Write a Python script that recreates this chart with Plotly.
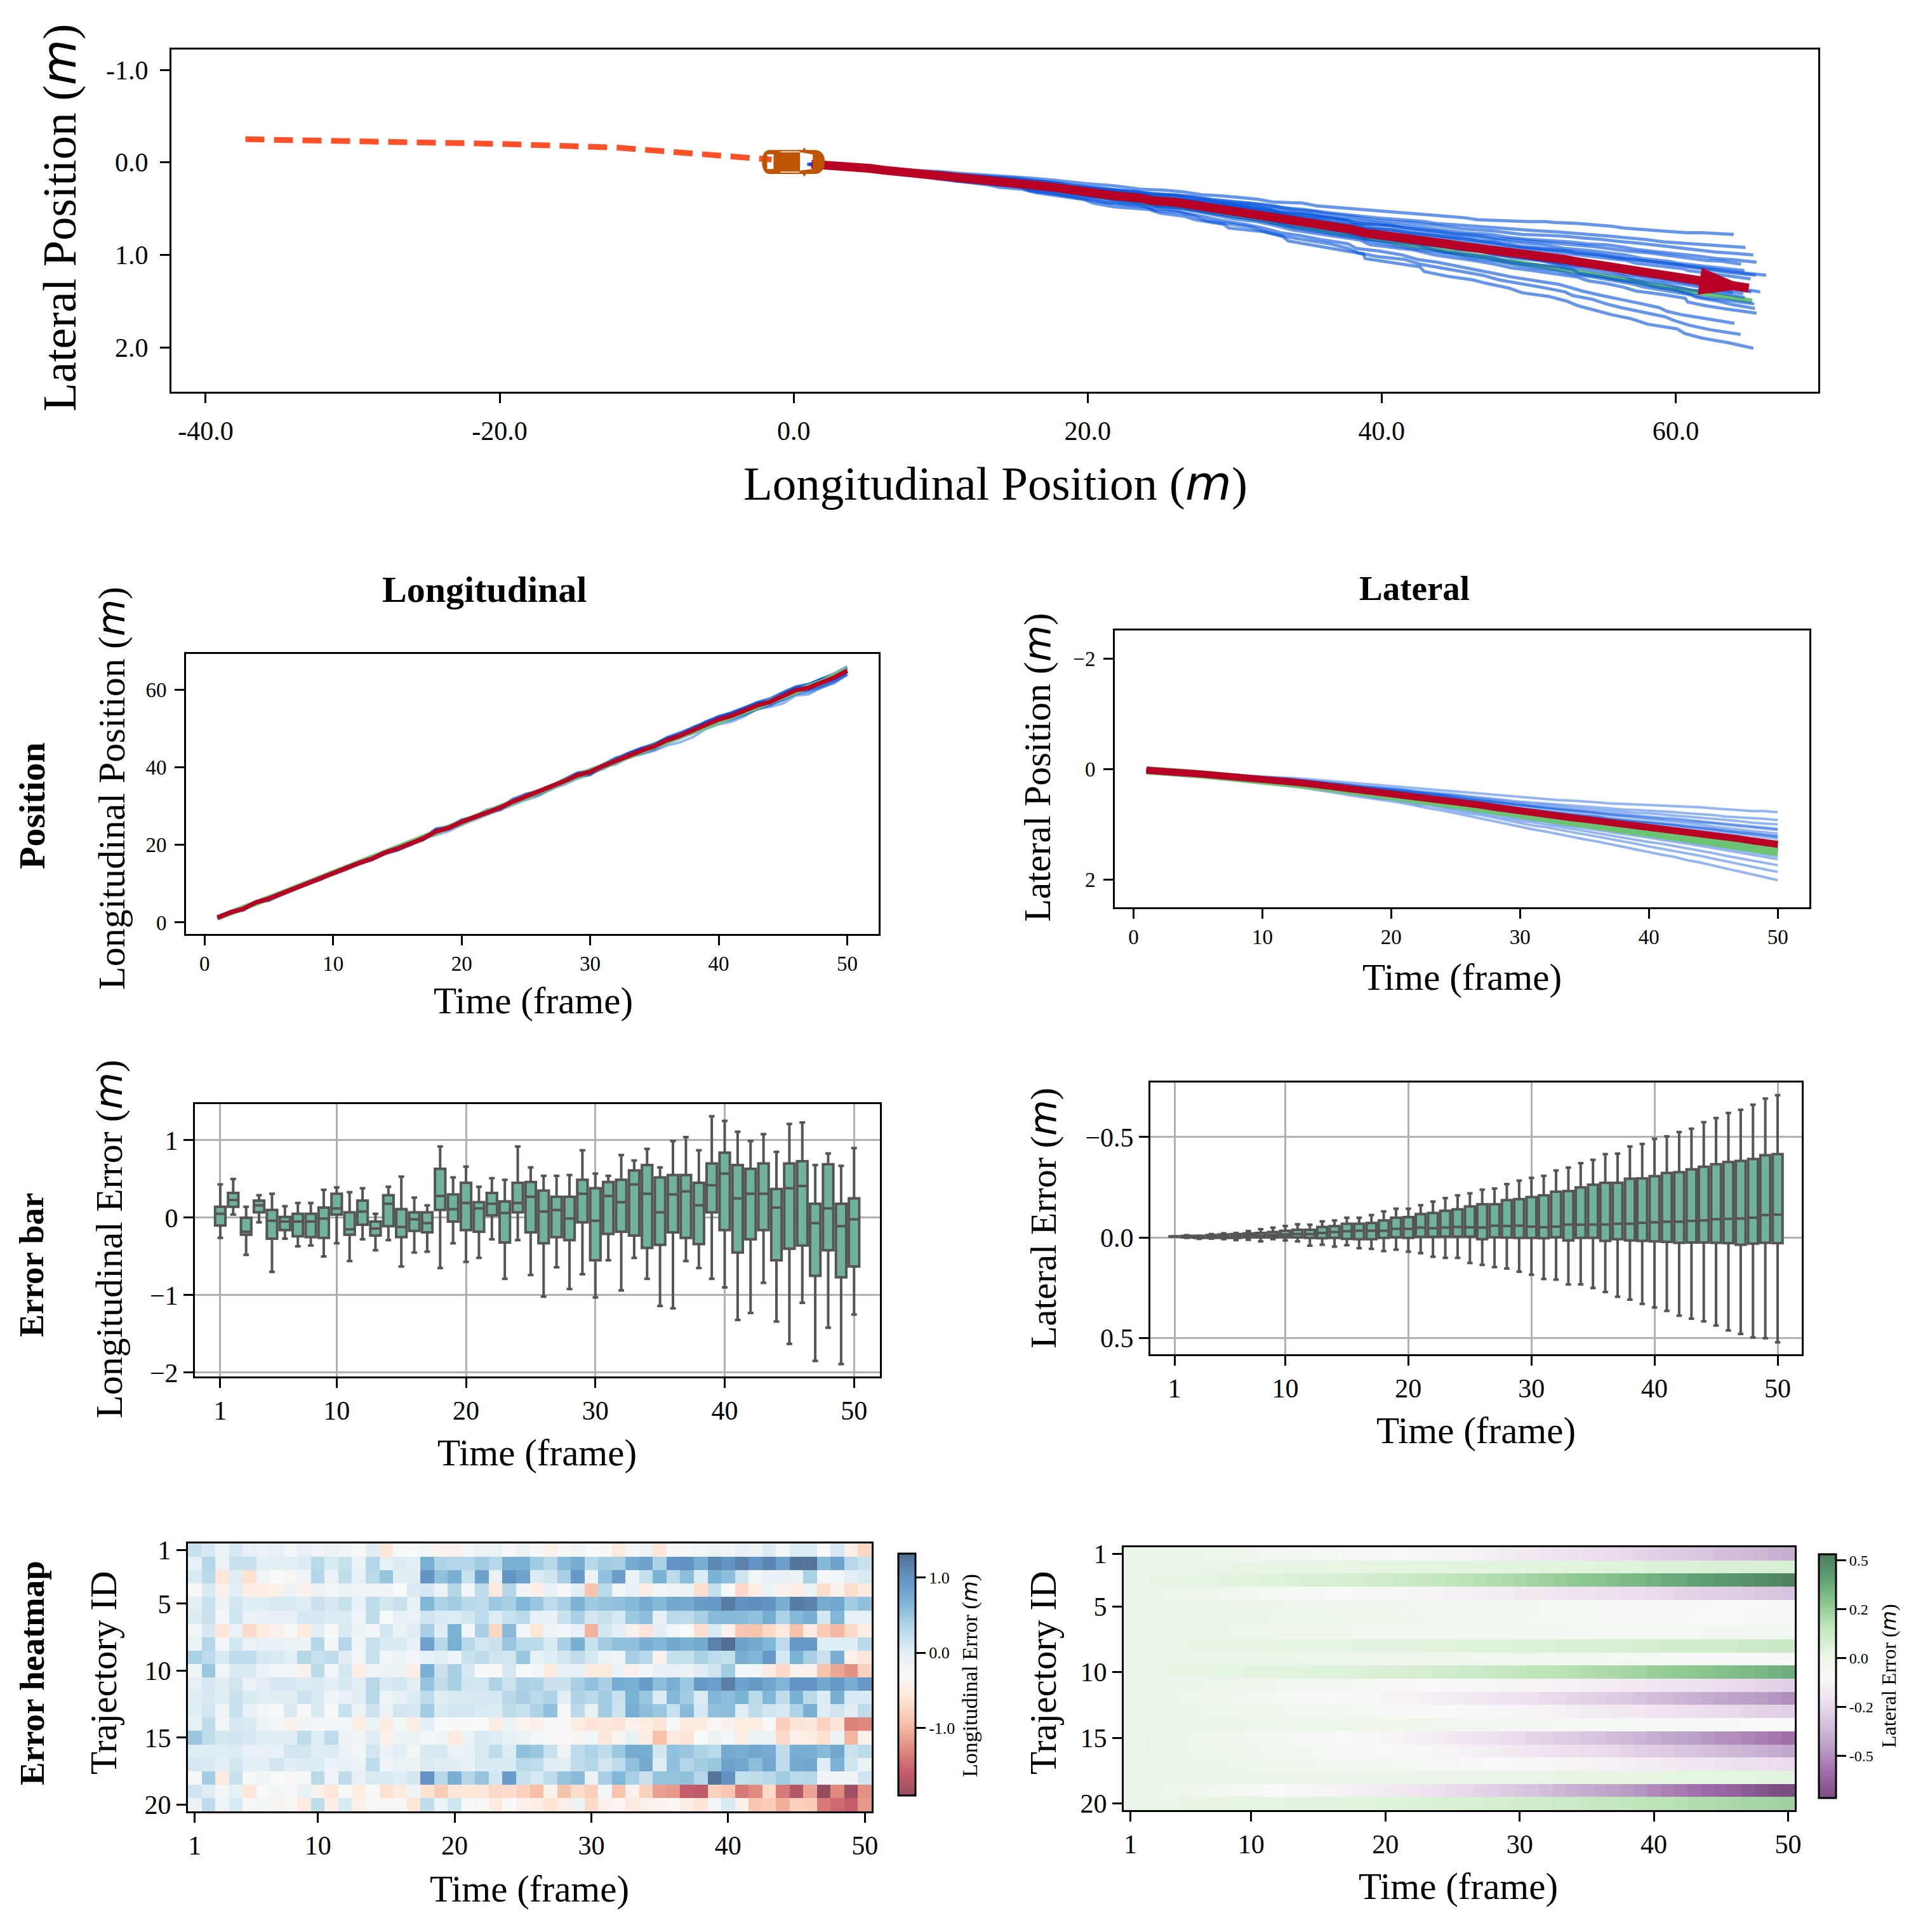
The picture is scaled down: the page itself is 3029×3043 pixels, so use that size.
import numpy as np
import plotly.graph_objects as go

W, H = 3029, 3043
SERIF = "Liberation Serif"
M = '<span style="font-family:DejaVu Sans;font-style:italic">m</span>'

frames = list(range(1, 51))
traj_ids = list(range(1, 21))

# ground truth positions per frame (m)
gt_long = [1.2, 2.4, 3.7, 5.1, 6.3, 7.6, 8.9, 10.2, 11.5, 12.8, 14.1, 15.3, 16.6, 17.9, 19.2, 20.4, 21.8, 23.2, 24.4, 25.8,
           27.1, 28.4, 29.7, 31.0, 32.4, 33.6, 35.0, 36.5, 37.8, 39.0, 40.3, 41.7, 43.0, 44.2, 45.5, 46.9, 48.1, 49.5, 50.7, 52.0,
           53.2, 54.5, 55.8, 57.0, 58.2, 59.7, 60.8, 62.0, 63.6, 65.2]
gt_lat = [0.02, 0.03, 0.05, 0.07, 0.09, 0.11, 0.13, 0.15, 0.18, 0.2, 0.22, 0.24, 0.27, 0.3, 0.33, 0.36, 0.39, 0.42, 0.45, 0.47,
          0.5, 0.54, 0.57, 0.6, 0.64, 0.68, 0.71, 0.75, 0.79, 0.83, 0.86, 0.89, 0.93, 0.96, 0.99, 1.02, 1.06, 1.09, 1.12, 1.15,
          1.18, 1.21, 1.25, 1.28, 1.32, 1.36, 1.39, 1.43, 1.46, 1.5]

# observed history (dashed line in the top panel)
hist_x = [-37.3, -30.0, -25.0, -20.0, -15.0, -12.0, -8.0, -4.0, -1.5]
hist_y = [-0.25, -0.235, -0.22, -0.2, -0.175, -0.16, -0.11, -0.06, -0.03]

# longitudinal error per trajectory (rows) and frame (columns)
long_err = [
    [.2, .1, -.1, .1, -.05, -.1, -.05, -.2, -.05, -.15, -.1, -.15, -.25, 0, -.6, -.3, -.28, -.2, -.4, -.45, -.2, -.1, -.1, -.3, -.1, -.3, -.42, -.25, -.15, -.28, -.3, -.55, -.2, -.1, -.6, -.3, -.25, -.18, -.12, -.15, -.05, -.12, .05, -.2, .05, .05, -.28, .1, -.45, -.75],
    [-.05, .35, -.1, .2, .2, -.03, -.03, -.03, .05, .3, .08, .2, -.1, .35, -.05, .05, -.03, .7, .38, .35, .35, .45, .33, .7, .7, .45, .32, .6, .75, .33, .45, .42, .75, .85, .4, 1.0, 1.03, .72, 1.1, 1.0, 1.15, 1.0, 1.12, .88, 1.25, 1.27, .62, .85, .32, .2],
    [.08, .3, -.6, .02, -.65, -.15, -.28, -.35, -.15, .35, -.1, .25, -.05, .3, .52, -.03, 0, 1.0, .55, .72, .2, .85, -.1, 1.0, .85, .05, .15, .42, .95, -.12, .55, .9, -.1, .22, .68, .28, .58, .05, .68, .58, .15, -.2, -.08, -.05, -.1, .4, -.2, -.22, -.02, .08],
    [-.3, .08, -.45, -.03, -.48, -.5, -.45, -.12, -.42, -.1, -.2, -.13, -.15, -.15, -.17, -.28, .07, .1, -.1, .35, -.18, .28, -.55, .35, -.15, -.48, -.05, -.32, -.03, -.9, .3, -.18, -.08, -.47, -.2, -.15, -.13, -.68, .22, -.25, -.72, -.47, -.13, -.42, -.48, -.12, -.7, -.42, -.68, -.52],
    [-.03, .2, -.1, .12, .03, .03, .08, .08, .03, .18, .1, .2, -.08, .27, .12, .2, -.08, .65, .38, .45, .32, .28, .48, .42, .65, .5, .28, .42, .68, .47, .52, .55, .62, .75, .62, .8, .78, .93, .95, 1.2, 1.02, 1.05, 1.0, .72, 1.2, 1.15, .75, .8, .45, .55],
    [.05, .18, -.22, .15, -.1, -.08, -.05, -.05, .1, .1, .05, .05, -.15, .25, -.28, -.08, -.1, .15, .08, .03, .15, .28, .03, .2, .3, -.07, -.07, .2, .42, .12, .2, .1, .48, .58, -.07, .3, .28, .42, .6, .62, .6, .55, .75, .38, .62, .72, .12, .65, -.05, -.05],
    [-.18, .1, -.6, -.1, -.72, -.55, -.45, -.25, -.55, -.03, -.3, .08, -.12, -.2, .12, -.13, .02, .42, .02, .68, -.2, .42, -.75, .6, -.2, -.6, -.15, -.22, -.05, -1.02, .12, -.02, -.42, -.62, -.03, -.18, -.28, -.68, .08, -.45, -.88, -.9, -.72, -.52, -.93, -.55, -.85, -.98, -.72, -.5],
    [-.12, .35, -.2, .12, -.1, -.05, -.07, -.1, -.12, .35, -.2, .35, -.15, .2, .08, .08, -.07, .85, .32, .7, .32, .12, .2, .5, .3, .3, .08, .42, .72, .2, .45, .55, .55, .72, .65, .8, .7, .78, 1.15, 1.3, .85, .78, .65, .28, .95, .95, .03, .03, .03, .3],
    [.4, .28, .08, .28, .27, .1, .07, -.03, .35, .2, .27, 0, -.2, .2, -.2, -.13, -.2, -.07, -.03, -.17, .2, .27, .15, .13, .5, -.05, .03, .12, .25, .1, -.1, -.15, .42, .32, -.42, .22, .22, .4, .28, .23, .72, .65, .95, .1, .68, .42, .18, .72, -.43, -.6],
    [-.15, .5, -.18, .07, .07, -.12, -.2, -.2, -.42, .3, -.2, .12, -.48, -.17, -.13, -.1, -.47, .7, .18, .42, .1, -.3, -.3, .1, -.3, -.2, -.55, -.05, -.08, -.55, -.55, -.12, -.42, -.2, -.08, -.05, -.13, 0, .15, .45, -.2, -.18, -.52, -.72, -.42, -.42, -.9, -1.1, -1.25, -.78],
    [-.05, .1, 0, .13, -.1, -.02, .1, .1, .05, .08, -.03, .1, -.02, .32, .07, .13, -.02, .52, .25, .42, .15, .13, .38, .17, .4, .38, .18, .18, .42, .55, .42, .75, .7, .92, .58, .72, .48, .95, .88, 1.18, .85, .95, .82, .65, 1.0, 1.0, .8, .95, .72, .95],
    [.02, .1, .02, .2, .08, -.03, 0, 0, .17, .08, -.17, -.07, 0, .33, -.17, -.05, .05, .28, 0, .08, .08, .1, .1, .32, .42, .3, .37, -.02, .37, .3, .45, .18, .68, .5, .05, .62, .45, .05, .65, .58, .68, .3, .65, .25, .7, .3, .05, .72, .08, .08],
    [.03, .13, -.17, .2, -.05, -.2, -.27, .07, -.3, .08, -.3, .2, -.13, .17, -.1, .13, .1, .45, .08, .13, .13, .07, .05, .27, .2, .38, .55, -.3, .3, -.05, .45, .17, .72, .57, .5, .2, .6, .1, .55, .58, .02, .25, .15, .1, .38, .7, .02, .15, 0, .25],
    [-.07, .27, -.22, .1, .08, -.12, -.22, -.42, -.17, -.2, -.2, -.22, -.5, -.13, -.53, -.23, -.5, -.03, -.28, -.27, -.27, -.28, -.5, -.12, -.4, -.45, -.32, -.32, -.5, -.62, -.58, -.62, -.42, -.5, -.62, -.25, -.52, -.52, -.32, -.42, -.5, -.5, -.27, -.8, -.62, -.58, -.78, -.62, -1.35, -1.3],
    [.5, .25, .12, .15, .1, .02, 0, 0, .28, .03, .28, -.12, -.15, .02, -.45, -.13, -.1, -.2, -.17, -.55, -.1, .08, .02, -.07, -.1, -.2, -.25, -.32, -.38, -.18, -.58, -.38, -.05, -.5, -.92, -.55, -.62, -.28, -.13, -.2, -.5, -.12, -.1, -.72, -.45, -.5, -.65, -.1, -1.0, -.45],
    [.03, .03, .03, .05, -.05, -.08, -.08, .12, .13, 0, .05, -.1, -.18, .13, -.1, -.03, -.18, .08, .1, -.13, -.07, .08, .27, .05, .55, .5, .2, -.17, .27, .38, .27, .48, .75, .72, .12, .55, .5, .38, .3, .78, .72, .8, .75, .27, .72, .72, .6, .8, .17, .3],
    [.1, .08, -.03, .13, -.03, -.03, .13, 0, .05, .05, -.12, -.05, -.13, .27, -.15, -.1, -.1, .05, 0, 0, -.07, .08, .08, .08, .3, .28, .02, -.02, .25, .35, .12, .27, .55, .78, .02, .55, .35, .45, .5, .85, .8, .58, .8, .28, .78, .8, .03, .68, .15, -.1],
    [-.25, .45, -.52, .2, -.25, -.17, -.28, -.35, -.23, .3, -.15, .28, -.05, .07, .07, .02, .12, 1.0, .32, .72, .35, .52, .12, .92, .2, .1, .28, .52, .6, -.12, .42, .65, .42, .18, .52, .52, .55, .35, 1.25, 1.02, .22, .25, .33, .45, .3, .33, -.15, -.15, -.17, .15],
    [.15, 0, -.2, -.05, -.58, -.28, -.22, -.25, -.07, -.42, -.6, -.3, -.5, -.3, -.65, -.52, -.17, -.65, -.82, -.6, -.6, -.6, -.72, -.7, -.78, -.95, -.42, -.92, -.7, -.8, -.2, -.9, -.42, -.78, -1.15, -1.2, -1.6, -1.65, -.78, -.88, -1.4, -1.28, -.72, -1.4, -1.7, -1.12, -1.9, -1.3, -1.85, -1.25],
    [-.1, .27, -.17, .08, -.32, -.18, -.38, -.32, -.52, .27, -.47, .08, -.45, -.25, -.32, -.32, -.6, .25, -.1, .15, -.27, -.25, -.55, -.3, -.45, -.48, -.62, -.45, -.1, -.72, -.45, -.35, -.55, -.42, -.38, -.33, -.48, -.62, -.2, .08, -.45, -.88, -.82, -1.05, -.78, -.82, -1.4, -1.5, -1.6, -1.2],
]

# lateral error per trajectory (rows) and frame (columns)
lat_err = [
    [0, 0, 0, -.01, -.01, -.01, -.02, -.02, -.02, -.03, -.04, -.04, -.05, -.05, -.06, -.06, -.07, -.07, -.08, -.08, -.09, -.10, -.11, -.12, -.12, -.13, -.14, -.15, -.16, -.17, -.18, -.19, -.20, -.21, -.22, -.23, -.24, -.25, -.26, -.28, -.29, -.30, -.31, -.32, -.34, -.35, -.36, -.37, -.39, -.40],
    [0, 0, 0, 0, 0, 0, 0, 0, .01, .01, .01, .01, .01, .01, .01, .01, .01, .01, .02, .02, .02, .02, .02, .02, .03, .03, .03, .03, .03, .03, .04, .04, .04, .04, .04, .05, .05, .05, .05, .06, .06, .06, .06, .07, .07, .07, .07, .07, .08, .08],
    [0, 0, .01, .01, .01, .02, .02, .03, .03, .04, .05, .05, .06, .07, .07, .08, .09, .09, .10, .11, .12, .13, .14, .15, .16, .17, .18, .19, .20, .21, .23, .24, .25, .27, .28, .29, .30, .32, .33, .35, .37, .38, .40, .41, .43, .44, .46, .47, .49, .51],
    [0, -.01, -.01, -.02, -.02, -.03, -.03, -.04, -.05, -.05, -.06, -.07, -.07, -.08, -.08, -.09, -.09, -.10, -.10, -.11, -.11, -.12, -.13, -.13, -.14, -.14, -.15, -.16, -.16, -.17, -.18, -.18, -.19, -.20, -.20, -.21, -.22, -.23, -.23, -.24, -.25, -.26, -.27, -.28, -.28, -.29, -.30, -.31, -.32, -.33],
    [0, 0, 0, 0, 0, 0, -.01, -.01, -.01, -.01, -.01, -.01, -.02, -.02, -.02, -.02, -.03, -.03, -.03, -.03, -.03, -.04, -.04, -.04, -.04, -.04, -.05, -.05, -.05, -.05, -.05, -.06, -.06, -.06, -.06, -.07, -.07, -.07, -.07, -.07, -.08, -.08, -.08, -.08, -.09, -.09, -.09, -.09, -.10, -.10],
    [0, 0, 0, 0, 0, -.01, -.01, -.01, -.01, -.01, -.01, -.02, -.02, -.02, -.02, -.02, -.02, -.03, -.03, -.03, -.03, -.03, -.04, -.04, -.04, -.05, -.05, -.05, -.05, -.05, -.06, -.06, -.06, -.06, -.06, -.07, -.07, -.07, -.08, -.08, -.08, -.08, -.09, -.09, -.09, -.09, -.10, -.10, -.10, -.10],
    [0, 0, 0, 0, -.01, -.01, -.01, -.01, -.02, -.02, -.02, -.03, -.03, -.03, -.03, -.03, -.03, -.04, -.04, -.04, -.04, -.04, -.04, -.05, -.05, -.05, -.05, -.05, -.05, -.05, -.05, -.05, -.05, -.06, -.06, -.06, -.06, -.06, -.06, -.06, -.06, -.06, -.06, -.05, -.05, -.05, -.05, -.05, -.05, -.04],
    [0, 0, 0, 0, 0, .01, .01, .01, .01, .01, .01, .02, .02, .02, .02, .02, .02, .03, .03, .03, .03, .03, .04, .04, .04, .05, .05, .05, .05, .06, .06, .06, .07, .07, .07, .08, .08, .08, .09, .09, .10, .10, .10, .11, .11, .11, .12, .12, .13, .13],
    [0, 0, 0, 0, 0, -.01, -.01, -.01, -.01, -.01, -.01, -.01, -.01, -.02, -.02, -.02, -.02, -.02, -.02, -.03, -.03, -.03, -.03, -.03, -.03, -.03, -.04, -.04, -.04, -.04, -.04, -.05, -.05, -.05, -.05, -.05, -.06, -.06, -.06, -.06, -.06, -.07, -.07, -.07, -.07, -.07, -.08, -.08, -.08, -.08],
    [0, 0, 0, .01, .01, .01, .02, .02, .02, .03, .03, .03, .04, .04, .05, .05, .05, .06, .07, .07, .08, .09, .09, .10, .11, .12, .12, .13, .14, .15, .16, .16, .17, .18, .19, .20, .21, .22, .23, .25, .26, .27, .28, .29, .30, .31, .32, .33, .35, .36],
    [0, 0, -.01, -.01, -.01, -.01, -.02, -.02, -.02, -.03, -.03, -.04, -.04, -.04, -.05, -.05, -.05, -.06, -.06, -.07, -.08, -.08, -.09, -.09, -.10, -.10, -.11, -.11, -.12, -.12, -.13, -.13, -.14, -.14, -.15, -.16, -.16, -.17, -.18, -.19, -.20, -.20, -.21, -.22, -.23, -.24, -.25, -.26, -.27, -.28],
    [0, -.01, -.01, -.01, -.02, -.02, -.03, -.03, -.04, -.05, -.05, -.06, -.07, -.07, -.08, -.09, -.10, -.10, -.11, -.12, -.13, -.13, -.14, -.15, -.16, -.17, -.18, -.19, -.20, -.21, -.22, -.24, -.25, -.26, -.27, -.28, -.30, -.31, -.33, -.35, -.36, -.38, -.39, -.41, -.42, -.44, -.45, -.46, -.48, -.50],
    [0, 0, 0, -.01, -.01, -.01, -.02, -.02, -.02, -.03, -.03, -.03, -.04, -.04, -.04, -.05, -.05, -.06, -.06, -.07, -.07, -.08, -.08, -.09, -.09, -.10, -.10, -.11, -.11, -.12, -.13, -.13, -.14, -.15, -.16, -.16, -.17, -.17, -.18, -.19, -.20, -.21, -.22, -.23, -.24, -.25, -.26, -.27, -.27, -.28],
    [0, 0, 0, 0, 0, 0, -.01, -.01, -.01, -.01, -.01, -.01, -.02, -.02, -.02, -.02, -.02, -.03, -.03, -.03, -.03, -.03, -.03, -.04, -.04, -.04, -.04, -.04, -.05, -.05, -.05, -.05, -.06, -.06, -.06, -.06, -.06, -.07, -.07, -.07, -.07, -.08, -.08, -.08, -.08, -.08, -.09, -.09, -.09, -.09],
    [0, 0, -.01, -.01, -.01, -.02, -.02, -.03, -.03, -.04, -.05, -.05, -.06, -.07, -.07, -.08, -.09, -.10, -.11, -.12, -.13, -.14, -.15, -.16, -.18, -.19, -.20, -.21, -.23, -.24, -.26, -.27, -.29, -.30, -.32, -.33, -.35, -.36, -.38, -.40, -.42, -.43, -.45, -.47, -.49, -.50, -.52, -.54, -.56, -.58],
    [0, 0, -.01, -.01, -.01, -.02, -.02, -.02, -.03, -.03, -.04, -.04, -.05, -.05, -.06, -.07, -.07, -.08, -.08, -.09, -.10, -.11, -.11, -.12, -.13, -.14, -.15, -.16, -.17, -.18, -.19, -.20, -.21, -.22, -.23, -.24, -.25, -.26, -.28, -.29, -.30, -.32, -.33, -.34, -.35, -.37, -.38, -.39, -.41, -.42],
    [0, 0, 0, 0, -.01, -.01, -.01, -.01, -.02, -.02, -.02, -.03, -.03, -.03, -.04, -.04, -.04, -.05, -.05, -.05, -.06, -.06, -.07, -.07, -.07, -.08, -.08, -.09, -.09, -.10, -.11, -.11, -.12, -.12, -.13, -.14, -.14, -.15, -.16, -.16, -.17, -.18, -.19, -.19, -.20, -.21, -.22, -.22, -.23, -.24],
    [0, 0, 0, 0, 0, 0, 0, 0, 0, -.01, -.01, -.01, -.01, -.01, -.01, -.01, -.01, -.01, -.01, -.01, -.01, -.01, -.01, -.01, -.01, 0, 0, 0, 0, 0, 0, 0, .01, .01, .01, .01, .01, .01, .01, .01, .02, .02, .02, .02, .02, .02, .02, .03, .03, .03],
    [0, -.01, -.01, -.02, -.02, -.03, -.04, -.05, -.06, -.07, -.08, -.09, -.10, -.11, -.12, -.13, -.14, -.15, -.16, -.17, -.18, -.19, -.21, -.22, -.24, -.25, -.27, -.28, -.30, -.32, -.33, -.35, -.37, -.39, -.41, -.42, -.44, -.46, -.48, -.51, -.53, -.55, -.57, -.59, -.61, -.63, -.65, -.67, -.70, -.72],
    [0, 0, 0, 0, .01, .01, .01, .01, .02, .02, .02, .02, .03, .03, .03, .03, .04, .04, .04, .05, .05, .06, .06, .07, .07, .08, .08, .09, .09, .10, .10, .11, .12, .12, .13, .14, .14, .15, .16, .17, .17, .18, .19, .19, .20, .21, .22, .22, .23, .24],
]

# box statistics, longitudinal error
long_upper = [.43, .50, .14, .29, .31, .15, .19, .19, .36, .39, .33, .38, .05, .40, .53, .26, .16, .92, .52, .66, .40, .51, .49, .92, .65, .54, .54, .55, .87, .57, .54, .81, .74, .89, .65, .99, 1.04, .87, 1.31, 1.25, 1.11, .99, 1.08, .85, 1.21, 1.23, .68, .83, .67, .90]
long_q3 = [.14, .32, 0, .22, .10, .01, .05, .05, .13, .31, .07, .22, -.05, .29, .11, .07, .07, .63, .30, .45, .20, .32, .21, .45, .46, .35, .27, .27, .49, .38, .46, .49, .61, .68, .52, .55, .55, .45, .70, .84, .68, .63, .70, .37, .70, .73, .18, .69, .18, .25]
long_med = [.05, .23, -.18, .16, -.04, -.05, -.05, -.05, -.01, .12, -.15, .08, -.14, .18, -.12, -.02, -.07, .28, .11, .19, .12, .18, .06, .19, .27, .08, .10, -.01, .31, -.04, .28, .20, .43, .31, .07, .30, .34, .16, .42, .57, .25, .31, .31, .13, .38, .41, -.07, .12, -.11, -.02]
long_q1 = [-.10, .14, -.22, .07, -.27, -.16, -.24, -.25, -.26, .04, -.22, -.09, -.23, -.11, -.25, -.17, -.19, .10, -.05, -.16, -.18, .03, -.32, .07, -.19, -.33, -.25, -.29, -.06, -.55, -.21, -.18, -.23, -.39, -.35, -.19, -.26, -.34, .07, -.16, -.45, -.28, -.16, -.55, -.40, -.36, -.75, -.42, -.77, -.63]
long_lower = [-.26, .04, -.48, -.06, -.70, -.27, -.37, -.36, -.50, -.33, -.56, -.28, -.42, -.29, -.63, -.45, -.44, -.65, -.33, -.57, -.52, -.28, -.79, -.29, -.74, -1.02, -.64, -.92, -.73, -1.03, -.55, -.94, -.52, -.79, -1.14, -1.17, -.56, -.65, -.79, -.90, -1.32, -1.23, -.84, -1.34, -1.63, -1.10, -1.85, -1.42, -1.89, -1.25]

# box statistics, lateral error (axis is reversed in the picture)
lat_lower = [-.006, -.011, -.009, -.017, -.021, -.022, -.032, -.041, -.049, -.057, -.066, -.063, -.080, -.085, -.098, -.098, -.112, -.130, -.143, -.143, -.161, -.179, -.196, -.210, -.220, -.238, -.244, -.266, -.283, -.297, -.307, -.334, -.348, -.370, -.387, -.415, -.418, -.453, -.466, -.491, -.504, -.525, -.542, -.574, -.595, -.620, -.636, -.661, -.692, -.709]
lat_q1 = [-.006, -.008, -.008, -.012, -.015, -.017, -.020, -.022, -.027, -.033, -.038, -.038, -.052, -.056, -.068, -.068, -.072, -.085, -.098, -.101, -.116, -.122, -.133, -.140, -.154, -.165, -.165, -.186, -.191, -.201, -.210, -.228, -.231, -.249, -.263, -.272, -.272, -.293, -.294, -.305, -.321, -.325, -.339, -.352, -.365, -.376, -.381, -.391, -.410, -.415]
lat_med = [-.004, -.004, -.004, -.004, -.006, -.008, -.009, -.008, -.012, -.014, -.017, -.017, -.022, -.027, -.031, -.033, -.033, -.033, -.043, -.043, -.049, -.046, -.049, -.052, -.051, -.049, -.059, -.057, -.059, -.054, -.051, -.054, -.064, -.063, -.064, -.064, -.068, -.068, -.073, -.075, -.078, -.078, -.082, -.085, -.091, -.093, -.094, -.098, -.112, -.114]
lat_q3 = [-.004, 0, .002, .002, .002, .002, -.001, 0, 0, -.001, 0, .002, .004, .002, .007, .009, .009, .002, -.001, .002, -.003, -.003, -.004, -.004, -.004, .009, -.001, .001, .002, .002, .004, -.001, .015, .002, .002, .017, .009, .015, .017, .020, .022, .027, .025, .025, .027, .028, .036, .031, .027, .028]
lat_upper = [-.004, .002, .007, .006, .009, .013, .012, .020, .009, .015, .020, .041, .036, .046, .039, .054, .057, .068, .061, .071, .078, .096, .102, .102, .127, .137, .148, .155, .171, .186, .207, .210, .234, .234, .252, .272, .296, .310, .331, .349, .366, .390, .405, .418, .439, .463, .481, .498, .502, .523]

frame_ticks = [1, 10, 20, 30, 40, 50]
frame_tick_labels = ["1", "10", "20", "30", "40", "50"]
id_ticks = [1, 5, 10, 15, 20]
id_tick_labels = ["1", "5", "10", "15", "20"]

rdbu = ["#67001f", "#b2182b", "#d6604d", "#f4a582", "#fddbc7", "#f7f7f7", "#d1e5f0", "#92c5de", "#4393c3", "#2166ac", "#053061"]
prgn = ["#40004b", "#762a83", "#9970ab", "#c2a5cf", "#e7d4e8", "#f7f7f7", "#d9f0d3", "#a6dba0", "#5aae61", "#1b7837", "#00441b"]


def faded_scale(colors, alpha=0.7):
    # heatmaps were drawn with alpha over white, colorbar included
    out = []
    for i, c in enumerate(colors):
        rgb = [int(c[j:j + 2], 16) for j in (1, 3, 5)]
        mix = [round(alpha * v + (1 - alpha) * 255) for v in rgb]
        out.append([i / (len(colors) - 1), f"rgb({mix[0]},{mix[1]},{mix[2]})"])
    return out


def xdom(left, right):
    return [left / W, right / W]


def ydom(top, bottom):
    return [1 - bottom / H, 1 - top / H]


def axis(domain, rng, tickvals, ticktext, size, grid=False, anchor=None, standoff=0):
    return dict(domain=domain, range=rng, tickmode="array", tickvals=tickvals, ticktext=ticktext,
                tickfont=dict(family=SERIF, size=size, color="black"), ticks="outside", ticklen=15, tickwidth=3,
                tickcolor="black", showline=True, mirror=True, linecolor="black", linewidth=3, zeroline=False,
                showgrid=grid, gridcolor="#b0b0b0", gridwidth=2.5, anchor=anchor, ticklabelstandoff=standoff,
                layer="above traces" if not grid else "below traces")


long_arr = np.array(long_err)
lat_arr = np.array(lat_err)
pred_long = np.array(gt_long) + long_arr
pred_lat = np.array(gt_lat) + lat_arr
mean_long = pred_long.mean(axis=0)
mean_lat = pred_lat.mean(axis=0)

fig = go.Figure()

GREEN = "#6cc372"
RED = "#b90025"
BLUE_TOP = "rgba(0,80,220,0.6)"
BLUE_SIDE = "rgba(0,80,220,0.42)"

# Top panel: bird's eye view
fig.add_trace(go.Scatter(x=hist_x, y=hist_y, mode="lines", line=dict(color="#ff5028", width=9, dash="30px,15px"), xaxis="x", yaxis="y"))
fig.add_trace(go.Scatter(x=gt_long, y=gt_lat, mode="lines", line=dict(color=GREEN, width=8), xaxis="x", yaxis="y"))
for i in range(20):
    fig.add_trace(go.Scatter(x=pred_long[i], y=pred_lat[i], mode="lines", line=dict(color=BLUE_TOP, width=5), xaxis="x", yaxis="y"))
fig.add_trace(go.Scatter(x=mean_long, y=mean_lat, mode="lines", line=dict(color=RED, width=14), xaxis="x", yaxis="y"))

# Position over time
for i in range(20):
    fig.add_trace(go.Scatter(x=frames, y=pred_long[i], mode="lines", line=dict(color=BLUE_SIDE, width=4), xaxis="x2", yaxis="y2"))
    fig.add_trace(go.Scatter(x=frames, y=pred_lat[i], mode="lines", line=dict(color=BLUE_SIDE, width=4), xaxis="x3", yaxis="y3"))
fig.add_trace(go.Scatter(x=frames, y=gt_long, mode="lines", line=dict(color=GREEN, width=9), xaxis="x2", yaxis="y2"))
fig.add_trace(go.Scatter(x=frames, y=mean_long, mode="lines", line=dict(color=RED, width=7), xaxis="x2", yaxis="y2"))
fig.add_trace(go.Scatter(x=frames, y=gt_lat, mode="lines", line=dict(color=GREEN, width=13), xaxis="x3", yaxis="y3"))
fig.add_trace(go.Scatter(x=frames, y=mean_lat, mode="lines", line=dict(color=RED, width=11), xaxis="x3", yaxis="y3"))

# Error boxes
box_style = dict(width=0.8, whiskerwidth=0.55, boxpoints=False, fillcolor="#70b29b", line=dict(color="#555555", width=4))
fig.add_trace(go.Box(x=frames, q1=long_q1, median=long_med, q3=long_q3, lowerfence=long_lower, upperfence=long_upper, xaxis="x4", yaxis="y4", **box_style))
fig.add_trace(go.Box(x=frames, q1=lat_q1, median=lat_med, q3=lat_q3, lowerfence=lat_lower, upperfence=lat_upper, xaxis="x5", yaxis="y5", **box_style))

# Error heatmaps
fig.add_trace(go.Heatmap(x=frames, y=traj_ids, z=long_err, zmin=-1.9, zmax=1.32, colorscale=faded_scale(rdbu), xaxis="x6", yaxis="y6",
                         colorbar=dict(x=1415 / W, xanchor="left", xpad=0, y=1 - 2637.5 / H, yanchor="middle", ypad=0, len=381 / H, lenmode="fraction",
                                       thickness=27, thicknessmode="pixels", outlinewidth=3, outlinecolor="black", ticks="outside", ticklen=15, tickwidth=3,
                                       tickcolor="black", tickmode="array", tickvals=[1.0, 0.0, -1.0], ticktext=["1.0", "0.0", "-1.0"],
                                       tickfont=dict(family=SERIF, size=26, color="black"))))
fig.add_trace(go.Heatmap(x=frames, y=traj_ids, z=lat_err, zmin=-0.714, zmax=0.53, colorscale=faded_scale(prgn), xaxis="x7", yaxis="y7",
                         colorbar=dict(x=2865 / W, xanchor="left", xpad=0, y=1 - 2640 / H, yanchor="middle", ypad=0, len=384 / H, lenmode="fraction",
                                       thickness=27, thicknessmode="pixels", outlinewidth=3, outlinecolor="black", ticks="outside", ticklen=15, tickwidth=3,
                                       tickcolor="black", tickmode="array", tickvals=[0.5, 0.25, 0.0, -0.25, -0.5], ticktext=["0.5", "0.2", "0.0", "-0.2", "-0.5"],
                                       tickfont=dict(family=SERIF, size=24, color="black"))))

# car icon, windows left open so the lines show through
car = ("M -1.7 -0.133 L 1.5 -0.133 Q 2.1 -0.12 2.12 -0.01 Q 2.1 0.115 1.5 0.125 L -1.7 0.125 Q -2.14 0.115 -2.16 -0.01 Q -2.14 -0.12 -1.7 -0.133 Z "
       "M -1.8 -0.087 L -1.37 -0.087 L -1.37 0.073 L -1.8 0.073 Z "
       "M 0.43 -0.11 L 1.3 -0.085 L 1.3 0.07 L 0.43 0.09 Z "
       "M -0.9 -0.118 L 0.4 -0.118 L 0.4 -0.108 L -0.9 -0.108 Z "
       "M -0.9 0.1 L 0.4 0.1 L 0.4 0.11 L -0.9 0.11 Z")
mirrors = "M 0.6 -0.133 L 0.72 -0.16 L 0.85 -0.133 Z M 0.6 0.125 L 0.72 0.155 L 0.85 0.125 Z"
arrow_head = "M 61.77 1.14 L 64.5 1.325 L 64.5 1.37 L 61.5 1.43 Z"
shapes = [
    dict(type="path", path=car, xref="x", yref="y", fillcolor="#bd5504", fillrule="evenodd", line=dict(width=0)),
    dict(type="path", path=mirrors, xref="x", yref="y", fillcolor="#bd5504", line=dict(width=0)),
    dict(type="path", path=arrow_head, xref="x", yref="y", fillcolor=RED, line=dict(width=0)),
]


def label(text, px, py, size, angle=0, bold=False):
    return dict(text=f"<b>{text}</b>" if bold else text, xref="paper", yref="paper", x=px / W, y=1 - py / H, xanchor="center", yanchor="middle",
                showarrow=False, textangle=angle, font=dict(family=SERIF, size=size, color="black"))


annotations = [
    label(f"Longitudinal Position ({M})", 1568, 761, 75),
    label(f"Lateral Position ({M})", 93, 343, 74, -90),
    label("Longitudinal", 763, 928, 58, bold=True),
    label("Lateral", 2228, 926, 55, bold=True),
    label("Position", 50, 1269, 58, -90, True),
    label("Error bar", 50, 1993, 54, -90, True),
    label("Error heatmap", 50, 2635, 55, -90, True),
    label(f"Longitudinal Position ({M})", 175, 1242, 60, -90),
    label(f"Lateral Position ({M})", 1634, 1209, 59, -90),
    label("Time (frame)", 840, 1576, 59),
    label("Time (frame)", 2303, 1539, 59),
    label(f"Longitudinal Error ({M})", 171, 1952, 60, -90),
    label(f"Lateral Error ({M})", 1643, 1919, 58, -90),
    label("Time (frame)", 846, 2288, 59),
    label("Time (frame)", 2325, 2253, 59),
    label("Trajectory ID", 163, 2635, 59, -90),
    label("Trajectory ID", 1643, 2635, 59, -90),
    label("Time (frame)", 834, 2975, 59),
    label("Time (frame)", 2297, 2971, 59),
    label(f"Longitudinal Error ({M})", 1527, 2639, 34, -90),
    label(f"Lateral Error ({M})", 2975, 2640, 32, -90),
]

fig.update_layout(
    width=W, height=H, margin=dict(l=0, r=0, t=0, b=0, autoexpand=False), autosize=False, showlegend=False,
    paper_bgcolor="white", plot_bgcolor="white", shapes=shapes, annotations=annotations,
    xaxis=axis(xdom(270, 2864), [-42.33, 69.7], [-40, -20, 0, 20, 40, 60], ["-40.0", "-20.0", "0.0", "20.0", "40.0", "60.0"], 42, anchor="y", standoff=8),
    yaxis=axis(ydom(78, 617), [2.48, -1.22], [-1, 0, 1, 2], ["-1.0", "0.0", "1.0", "2.0"], 42, anchor="x", standoff=10),
    xaxis2=axis(xdom(293, 1384), [-1.45, 52.45], [0, 10, 20, 30, 40, 50], ["0", "10", "20", "30", "40", "50"], 33, anchor="y2"),
    yaxis2=axis(ydom(1030, 1471), [-2.95, 69.3], [0, 20, 40, 60], ["0", "20", "40", "60"], 33, anchor="x2", standoff=6),
    xaxis3=axis(xdom(1756, 2850), [-1.45, 52.45], [0, 10, 20, 30, 40, 50], ["0", "10", "20", "30", "40", "50"], 33, anchor="y3"),
    yaxis3=axis(ydom(993, 1429), [2.5, -2.51], [-2, 0, 2], ["−2", "0", "2"], 33, anchor="x3", standoff=6),
    xaxis4=axis(xdom(307, 1386), [-0.96, 52.0], frame_ticks, frame_tick_labels, 42, grid=True, anchor="y4"),
    yaxis4=axis(ydom(1739, 2168), [-2.05, 1.467], [-2, -1, 0, 1], ["−2", "−1", "0", "1"], 42, grid=True, anchor="x4"),
    xaxis5=axis(xdom(1812, 2838), [-0.96, 51.96], frame_ticks, frame_tick_labels, 42, grid=True, anchor="y5"),
    yaxis5=axis(ydom(1705, 2133), [0.582, -0.772], [-0.5, 0, 0.5], ["−0.5", "0.0", "0.5"], 42, grid=True, anchor="x5"),
    xaxis6=axis(xdom(296, 1373), [0.5, 50.5], frame_ticks, frame_tick_labels, 42, anchor="y6"),
    yaxis6=axis(ydom(2431, 2853), [20.5, 0.5], id_ticks, id_tick_labels, 42, anchor="x6"),
    xaxis7=axis(xdom(1770, 2827), [0.5, 50.5], frame_ticks, frame_tick_labels, 42, anchor="y7"),
    yaxis7=axis(ydom(2437, 2851), [20.5, 0.5], id_ticks, id_tick_labels, 42, anchor="x7"),
)

fig.write_html("out.html", post_script="document.body.style.margin='0';", config=dict(displayModeBar=False))
